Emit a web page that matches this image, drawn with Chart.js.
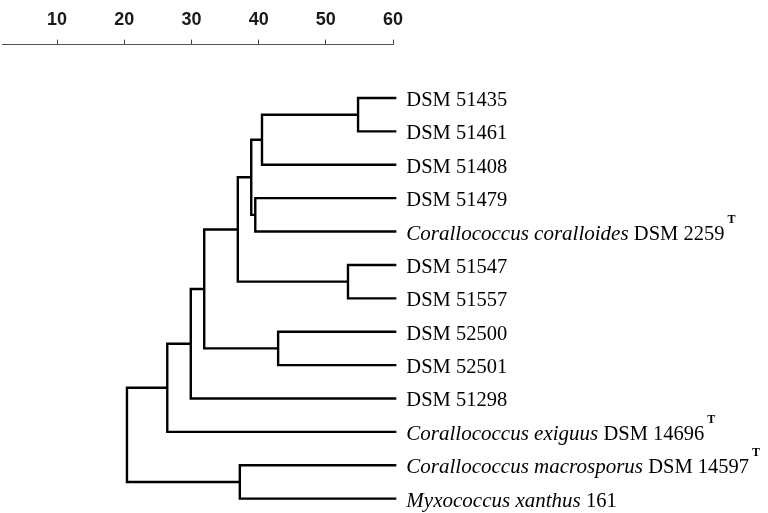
<!DOCTYPE html>
<html>
<head>
<meta charset="utf-8">
<script src="https://cdn.jsdelivr.net/npm/chart.js@4/dist/chart.umd.min.js"></script>
<style>
  html, body { margin: 0; padding: 0; background: #fff; }
  canvas { display: block; }
</style>
</head>
<body>
<canvas id="c" width="768" height="513"></canvas>
<script>
// ---- Data ----
const leafNames = ['DSM 51435', 'DSM 51461', 'DSM 51408', 'DSM 51479', 'DSM 2259',
  'DSM 51547', 'DSM 51557', 'DSM 52500', 'DSM 52501', 'DSM 51298',
  'DSM 14696', 'DSM 14597', '161'];
const leafItalic = ['', '', '', '', 'Corallococcus coralloides',
  '', '', '', '', '',
  'Corallococcus exiguus', 'Corallococcus macrosporus', 'Myxococcus xanthus'];
const leafSup = ['', '', '', '', 'T', '', '', '', '', '', 'T', 'T', ''];
// linkage: ids >= 13 refer to earlier merges (13 + merge index)
const mergeLeft   = [0, 13, 3, 14, 5, 16, 7, 18, 20, 21, 11, 22];
const mergeRight  = [1, 2, 4, 15, 6, 17, 8, 19, 9, 10, 12, 23];
const mergeHeight = [54.8, 40.5, 39.5, 38.9, 53.3, 36.9, 42.9, 31.9, 29.9, 26.4, 37.2, 20.4];
const leafHeight = 60.5;
const tickValues = [10, 20, 30, 40, 50, 60];

// ---- Build dendrogram segments from linkage ----
const nLeaves = leafNames.length;
const nodeX = [], nodeY = [];
for (let i = 0; i < nLeaves; i++) { nodeX.push(leafHeight); nodeY.push(i); }
const datasets = [];
for (let m = 0; m < mergeHeight.length; m++) {
  const a = mergeLeft[m], b = mergeRight[m], h = mergeHeight[m];
  datasets.push({
    data: [
      { x: nodeX[a], y: nodeY[a] },
      { x: h, y: nodeY[a] },
      { x: h, y: nodeY[b] },
      { x: nodeX[b], y: nodeY[b] }
    ],
    showLine: true,
    borderColor: '#000',
    borderWidth: 2.4,
    pointRadius: 0,
    tension: 0,
    clip: false,
    borderJoinStyle: 'miter',
    borderCapStyle: 'butt'
  });
  nodeX.push(h);
  nodeY.push((nodeY[a] + nodeY[b]) / 2);
}

const labelPlugin = {
  id: 'leafLabels',
  afterDatasetsDraw(chart) {
    const ctx = chart.ctx;
    const xs = chart.scales.x, ys = chart.scales.y;
    ctx.save();
    ctx.fillStyle = '#000';
    ctx.textBaseline = 'alphabetic';
    ctx.textAlign = 'left';
    for (let i = 0; i < nLeaves; i++) {
      let x = xs.getPixelForValue(leafHeight) + 10;
      const y = ys.getPixelForValue(i) + 8;
      if (leafItalic[i]) {
        ctx.font = 'italic 21px "Liberation Serif", "Times New Roman", serif';
        const t = leafItalic[i] + ' ';
        ctx.fillText(t, x, y);
        x += ctx.measureText(t).width;
      }
      ctx.font = '20.5px "Liberation Serif", "Times New Roman", serif';
      ctx.fillText(leafNames[i], x, y);
      x += ctx.measureText(leafNames[i]).width;
      if (leafSup[i]) {
        ctx.font = 'bold 12px "Liberation Serif", serif';
        ctx.fillText(leafSup[i], x + 3, y - 17);
      }
    }
    ctx.restore();
  }
};

new Chart(document.getElementById('c'), {
  type: 'scatter',
  data: { datasets },
  plugins: [labelPlugin],
  options: {
    responsive: false,
    animation: false,
    events: [],
    layout: { padding: { left: 2, right: 375, top: 0, bottom: 1 } },
    plugins: { legend: { display: false }, tooltip: { enabled: false } },
    scales: {
      x: {
        type: 'linear',
        position: 'top',
        min: 1.8,
        max: 60,
        afterBuildTicks: s => { s.ticks = tickValues.map(v => ({ value: v })); },
        grid: { display: true, drawOnChartArea: false, drawTicks: true, tickLength: 5, color: '#444', lineWidth: 1 },
        border: { display: true, color: '#555', width: 1, dash: [1, 1] },
        ticks: { color: '#1a1a1a', padding: 9, font: { family: '"Liberation Sans", Arial, sans-serif', size: 18, weight: 'bold' } }
      },
      y: {
        type: 'linear',
        reverse: true,
        min: -1.6,
        max: 12.4,
        display: false
      }
    }
  }
});
</script>
</body>
</html>
